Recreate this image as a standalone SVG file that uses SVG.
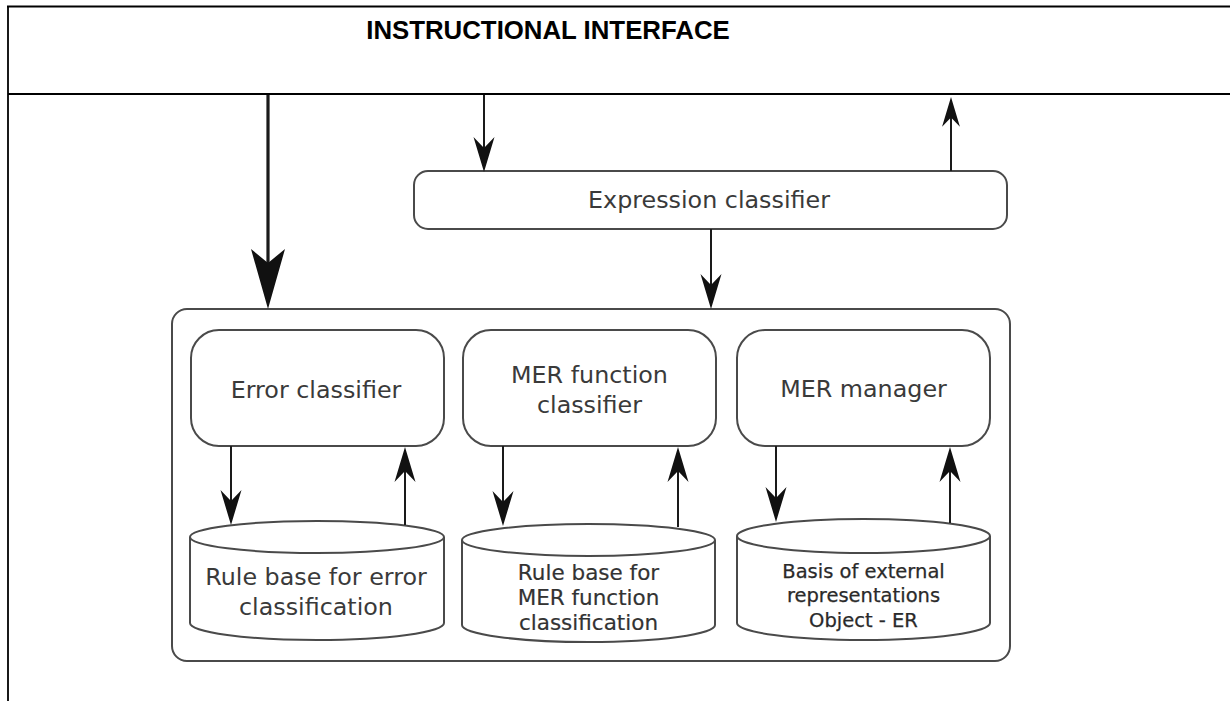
<svg xmlns="http://www.w3.org/2000/svg" xmlns:xlink="http://www.w3.org/1999/xlink" width="1230" height="701" viewBox="0 0 1230 701">
<style>
.frame{stroke:#000;stroke-width:1.8;fill:none}
.box{fill:#fff;stroke:#4a4a4a;stroke-width:2}
.line{stroke:#1a1a1a;stroke-width:2;fill:none}
.head{fill:#111}
.lbl{font-family:"DejaVu Sans",sans-serif;font-size:23.8px;fill:#3a3a3a;text-anchor:middle}
.sm{font-family:"DejaVu Sans",sans-serif;font-size:19.5px;fill:#2a2a2a;stroke:#2a2a2a;stroke-width:0.25;text-anchor:middle}
.sm2{font-family:"DejaVu Sans",sans-serif;font-size:21.5px;fill:#333;stroke:#333;stroke-width:0.2;text-anchor:middle}
.title{font-family:"Liberation Sans",Arial,sans-serif;font-weight:bold;font-size:25.8px;fill:#000;text-anchor:middle}
</style>
<defs>
<path id="ah" d="M0,0 L-10.5,-35 L0,-24 L10.5,-35 Z"/>
<path id="ahBig" d="M0,0 L-17,-60 L0,-46 L17,-60 Z"/>
</defs>
<rect width="1230" height="701" fill="#fff"/>
<g id="frame">
<line class="frame" x1="7" y1="6.5" x2="1230" y2="6.5"/>
<line class="frame" x1="8" y1="6" x2="8" y2="701"/>
<line class="frame" x1="8" y1="94" x2="1230" y2="94"/>
<text class="title" x="548" y="39">INSTRUCTIONAL INTERFACE</text>
</g>
<g id="outer">
<rect class="box" x="172" y="309" width="838" height="352" rx="15"/>
</g>
<g id="expression-classifier">
<rect class="box" x="414" y="171" width="593" height="58" rx="14"/>
<text class="lbl" x="709" y="208">Expression classifier</text>
</g>
<g id="error-classifier">
<rect class="box" x="191" y="330" width="253" height="116" rx="28"/>
<text class="lbl" x="316" y="398">Error classifier</text>
</g>
<g id="mer-function-classifier">
<rect class="box" x="463" y="330" width="253" height="116" rx="28"/>
<text class="lbl" x="589.5" y="383">MER function</text>
<text class="lbl" x="589.5" y="413">classifier</text>
</g>
<g id="mer-manager">
<rect class="box" x="737" y="330" width="253" height="116" rx="28"/>
<text class="lbl" x="863.5" y="397">MER manager</text>
</g>
<g id="rule-base-error">
<path class="box" d="M190,537 L190,623 A127,17 0 0 0 444,623 L444,537"/>
<ellipse class="box" cx="317" cy="537" rx="127" ry="16"/>
<text class="lbl" x="316" y="585">Rule base for error</text>
<text class="lbl" x="316" y="615">classification</text>
</g>
<g id="rule-base-mer">
<path class="box" d="M462,540 L462,625 A126.5,17 0 0 0 715,625 L715,540"/>
<ellipse class="box" cx="588.5" cy="540" rx="126.5" ry="16"/>
<text class="sm2" x="588.5" y="580">Rule base for</text>
<text class="sm2" x="588.5" y="605">MER function</text>
<text class="sm2" x="588.5" y="630">classification</text>
</g>
<g id="basis-er">
<path class="box" d="M737,536 L737,623 A126.5,17 0 0 0 990,623 L990,536"/>
<ellipse class="box" cx="863.5" cy="536" rx="126.5" ry="17"/>
<text class="sm" x="863.5" y="578">Basis of external</text>
<text class="sm" x="863.5" y="602">representations</text>
<text class="sm" x="863.5" y="627">Object - ER</text>
</g>
<g id="connectors">
<line class="line" x1="268" y1="95" x2="268" y2="270" style="stroke-width:3.2"/>
<use href="#ahBig" class="head" transform="translate(268,309)"/>
<line class="line" x1="484" y1="95" x2="484" y2="150"/>
<use href="#ah" class="head" transform="translate(484,172)"/>
<line class="line" x1="951" y1="171" x2="951" y2="115"/>
<use href="#ah" class="head" transform="translate(951,97) rotate(180) scale(0.85)"/>
<line class="line" x1="711" y1="229" x2="711" y2="285"/>
<use href="#ah" class="head" transform="translate(711,309)"/>
<line class="line" x1="231" y1="446" x2="231" y2="505"/>
<use href="#ah" class="head" transform="translate(231,525)"/>
<line class="line" x1="405" y1="525" x2="405" y2="468"/>
<use href="#ah" class="head" transform="translate(405,447) rotate(180)"/>
<line class="line" x1="503" y1="446" x2="503" y2="505"/>
<use href="#ah" class="head" transform="translate(503,526)"/>
<line class="line" x1="678" y1="527" x2="678" y2="468"/>
<use href="#ah" class="head" transform="translate(678,447) rotate(180)"/>
<line class="line" x1="776" y1="446" x2="776" y2="502"/>
<use href="#ah" class="head" transform="translate(776,522)"/>
<line class="line" x1="950" y1="523" x2="950" y2="468"/>
<use href="#ah" class="head" transform="translate(950,447) rotate(180)"/>
</g>
</svg>
